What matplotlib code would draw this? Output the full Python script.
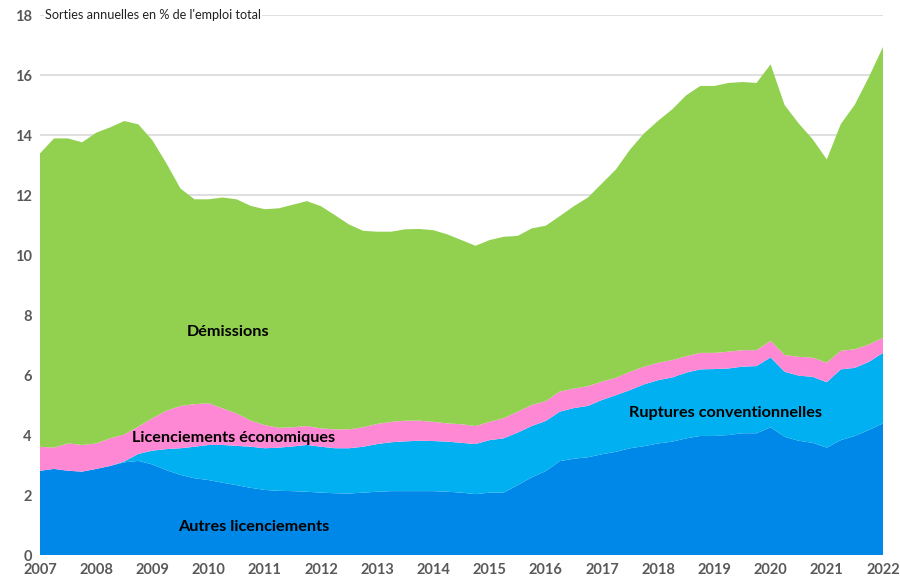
import numpy as np
import matplotlib.pyplot as plt

# quarterly data, 2007Q1 .. 2022Q1 (annual exits in % of total employment)
autres = [2.81, 2.87, 2.81, 2.78, 2.87, 2.97, 3.09, 3.14, 3.02, 2.83,
          2.67, 2.56, 2.50, 2.41, 2.33, 2.24, 2.17, 2.14, 2.13, 2.11,
          2.08, 2.06, 2.05, 2.08, 2.11, 2.13, 2.13, 2.13, 2.13, 2.11,
          2.08, 2.03, 2.08, 2.08, 2.33, 2.59, 2.80, 3.13, 3.21, 3.26,
          3.36, 3.44, 3.56, 3.63, 3.72, 3.78, 3.89, 3.97, 3.97, 4.00,
          4.06, 4.06, 4.26, 3.94, 3.81, 3.74, 3.58, 3.83, 3.97, 4.17,
          4.39]
ruptures = [0, 0, 0, 0, 0, 0, 0.03, 0.23, 0.46, 0.70,
            0.89, 1.05, 1.17, 1.26, 1.31, 1.37, 1.39, 1.44, 1.49, 1.56,
            1.53, 1.50, 1.51, 1.53, 1.59, 1.63, 1.66, 1.68, 1.67, 1.67,
            1.66, 1.67, 1.75, 1.81, 1.75, 1.71, 1.67, 1.65, 1.69, 1.71,
            1.81, 1.89, 1.94, 2.06, 2.11, 2.14, 2.19, 2.22, 2.23, 2.22,
            2.22, 2.24, 2.33, 2.17, 2.17, 2.20, 2.18, 2.36, 2.27, 2.27,
            2.35]
eco = [0.80, 0.71, 0.91, 0.89, 0.85, 0.92, 0.90, 0.91, 1.08, 1.28,
       1.41, 1.42, 1.39, 1.22, 1.08, 0.87, 0.77, 0.66, 0.64, 0.63,
       0.61, 0.63, 0.63, 0.65, 0.67, 0.68, 0.69, 0.67, 0.64, 0.61,
       0.62, 0.60, 0.61, 0.67, 0.70, 0.70, 0.66, 0.67, 0.65, 0.66,
       0.61, 0.58, 0.61, 0.59, 0.58, 0.58, 0.55, 0.55, 0.54, 0.56,
       0.55, 0.53, 0.55, 0.56, 0.63, 0.64, 0.65, 0.62, 0.62, 0.58,
       0.50]
demissions = [9.78, 10.31, 10.17, 10.09, 10.36, 10.37, 10.45, 10.08, 9.27, 8.25,
              7.25, 6.83, 6.80, 7.03, 7.14, 7.16, 7.20, 7.32, 7.42, 7.50,
              7.41, 7.14, 6.83, 6.55, 6.41, 6.34, 6.38, 6.39, 6.39, 6.30,
              6.14, 6.01, 6.06, 6.05, 5.86, 5.89, 5.85, 5.85, 6.08, 6.29,
              6.61, 6.95, 7.41, 7.78, 8.07, 8.36, 8.70, 8.90, 8.90, 8.96,
              8.94, 8.91, 9.22, 8.33, 7.78, 7.28, 6.78, 7.56, 8.16, 8.92,
              9.70]

years = list(range(2007, 2023))
x = 2007 + np.arange(len(autres)) / 4

colors = ["#0088E9", "#00B0F0", "#FF88D4", "#92D050"]

plt.rcParams['font.family'] = ['Lato', 'DejaVu Sans']

fig = plt.figure(figsize=(9, 5.83), dpi=100)
ax = fig.add_axes([0.0444, 0.048, 0.9367, 0.926])

ax.stackplot(x, autres, ruptures, eco, demissions, colors=colors, linewidth=0, zorder=2)

ax.set_xlim(2007, 2022)
ax.set_ylim(0, 18)
ax.set_yticks(range(0, 19, 2))
ax.set_xticks(years)
ax.grid(axis="y", color="#D9D9D9", linewidth=1.2, zorder=0)
ax.set_axisbelow(True)
for s in ax.spines.values():
    s.set_visible(False)
ax.tick_params(length=0, labelsize=10.5, labelcolor="#595959", pad=6)
for lab in ax.get_xticklabels() + ax.get_yticklabels():
    lab.set_fontweight("bold")

ax.text(2007.09, 18, "Sorties annuelles en % de l'emploi total", fontsize=9.1,
        va="center", ha="left", color="#222222",
        bbox=dict(facecolor="white", edgecolor="none", pad=1), zorder=3)

lab_kw = dict(fontsize=11.7, fontweight="bold", ha="center", va="center", color="black", zorder=4)
ax.text(2010.35, 7.45, "Démissions", **lab_kw)
ax.text(2010.45, 3.9, "Licenciements économiques", **lab_kw)
ax.text(2010.8, 0.93, "Autres licenciements", **lab_kw)
ax.text(2019.2, 4.72, "Ruptures conventionnelles", **lab_kw)

fig.savefig("out.png", dpi=100)
